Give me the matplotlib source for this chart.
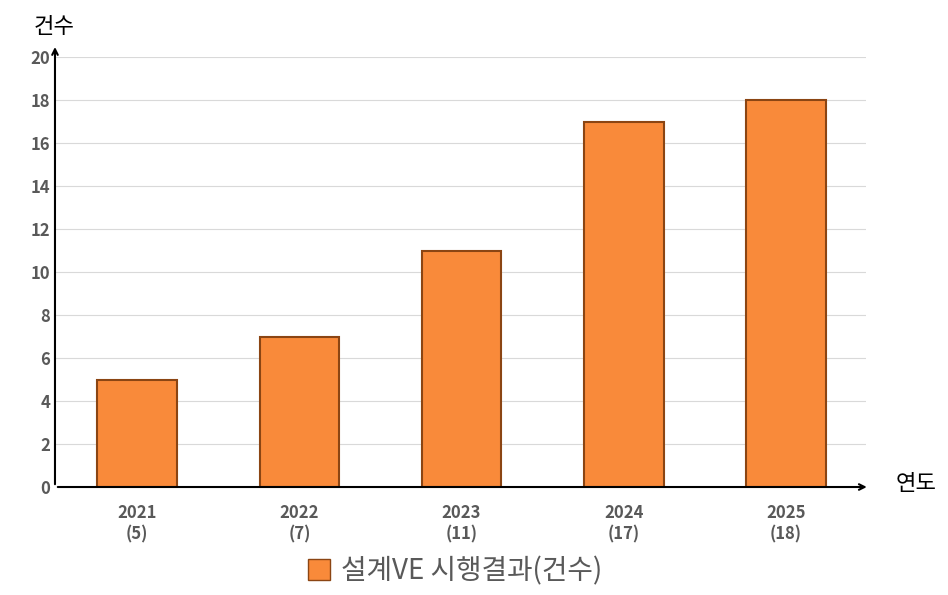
import matplotlib
matplotlib.use("Agg")
import matplotlib.pyplot as plt
from matplotlib.patches import Patch

plt.rcParams['font.family'] = ['Noto Sans CJK KR', 'DejaVu Sans']

years = ['2021', '2022', '2023', '2024', '2025']
counts = [5, 7, 11, 17, 18]
labels = [f"{y}\n({c})" for y, c in zip(years, counts)]
yticks = list(range(0, 21, 2))

fig = plt.figure(figsize=(9.48, 5.95), dpi=100)
ax = fig.add_axes([0.058, 0.1815, 0.855, 0.7225])
x = list(range(len(years)))
ax.bar(x, counts, width=0.49, color='#F98A3A', edgecolor='#8B4513', linewidth=1.5, zorder=3)
ax.set_xlim(-0.506, 4.49)
ax.set_ylim(0, 20)
ax.set_yticks(yticks)
ax.set_xticks(x)
ax.set_xticklabels(labels, fontsize=12, fontweight='bold', color='#595959', linespacing=1.3)
ax.tick_params(axis='y', labelsize=12, colors='#595959', length=0)
for t in ax.get_yticklabels():
    t.set_fontweight('bold')
ax.tick_params(axis='x', length=0, pad=12)
ax.grid(axis='y', color='#D9D9D9', linewidth=0.8, zorder=0)
for s in ax.spines.values():
    s.set_visible(False)
ax.annotate('', xy=(0, 1.03), xycoords='axes fraction', xytext=(0, 0),
            arrowprops=dict(arrowstyle='->', color='black', lw=1.5), zorder=5)
ax.annotate('', xy=(1.005, 0), xycoords='axes fraction', xytext=(0, 0),
            arrowprops=dict(arrowstyle='->', color='black', lw=1.5), zorder=5)
fig.text(0.035, 0.955, '건수', fontsize=16, ha='left', va='center')
fig.text(0.945, 0.187, '연도', fontsize=16, ha='left', va='center')
fig.legend(handles=[Patch(facecolor='#F98A3A', edgecolor='#8B4513')], labels=['설계VE 시행결과(건수)'],
           loc='center', bbox_to_anchor=(0.48, 0.04), frameon=False, fontsize=20,
           labelcolor='#595959', handlelength=0.8, handleheight=0.8, handletextpad=0.4)
fig.savefig('out.png', dpi=100)
